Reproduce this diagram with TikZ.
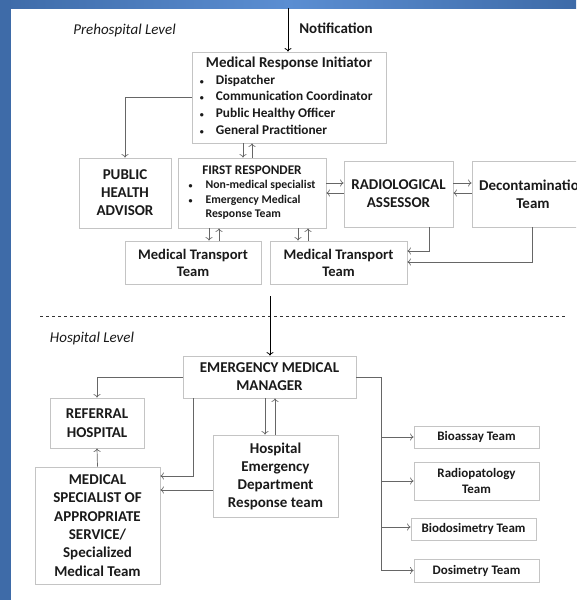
\documentclass[tikz,border=0pt]{standalone}
\usepackage{fontspec}
\setmainfont{Carlito}
\usetikzlibrary{arrows.meta}

\definecolor{bandblue}{HTML}{3E6BA8}
\definecolor{bandlight}{HTML}{5B8ED2}
\definecolor{boxgray}{HTML}{C4C4C4}
\definecolor{linegray}{HTML}{666666}
\definecolor{txt}{HTML}{1A1A1A}

\newcommand{\dotitem}{{\fontsize{8}{8}\selectfont\textbullet}}

\tikzset{
  >={To[length=3.5pt,width=7pt]},
  box/.style={draw=boxgray, line width=0.8pt, fill=white, align=center, text=txt,
    inner sep=1pt, font=\bfseries\fontsize{15}{18}\selectfont},
  smallbox/.style={box, font=\bfseries\fontsize{13}{16.5}\selectfont},
  conn/.style={draw=linegray, line width=0.7pt, ->},
  level/.style={font=\itshape\fontsize{15}{18}\selectfont, text=txt},
}

\begin{document}
\begin{tikzpicture}[x=1pt, y=-1pt]
    \useasboundingbox (0,0) rectangle (576,600);
    \clip (0,0) rectangle (576,600);
    % frame
    \shade[left color=bandblue, right color=bandblue, middle color=bandlight] (0,0) rectangle (576,8);
    \fill[bandblue] (0,0) rectangle (11,600);

    % prehospital level
    \node[level] (pre) at (124.5,30) {Prehospital Level};
    \coordinate (ntop) at (288,8);
    \node[font=\bfseries\fontsize{15}{18}\selectfont, text=txt] (notif) at (336,28) {Notification};

    \node[box, minimum width=194, minimum height=91, font=\bfseries\fontsize{13.3}{16.7}\selectfont] (mri) at (289,97.5)
      {\begin{tabular}{@{}l@{\hspace{12pt}}l@{}}
        \multicolumn{2}{c}{\fontsize{15}{17}\selectfont Medical Response Initiator}\\
        \dotitem & Dispatcher\\
        \dotitem & Communication Coordinator\\
        \dotitem & Public Healthy Officer\\
        \dotitem & General Practitioner
       \end{tabular}};
    \node[box, minimum width=92, minimum height=70] (pha) at (125,193) {PUBLIC\\HEALTH\\ADVISOR};
    \node[box, minimum width=148, minimum height=70, font=\bfseries\fontsize{11.75}{14.6}\selectfont] (fr) at (252,193)
      {\begin{tabular}{@{}l@{\hspace{13pt}}l@{}}
        \multicolumn{2}{c}{\fontsize{13.2}{15}\selectfont FIRST RESPONDER}\\
        \dotitem & Non-medical specialist\\
        \dotitem & Emergency Medical\\
                 & Response Team
       \end{tabular}};
    \node[box, minimum width=109, minimum height=66] (ra) at (398.5,194) {RADIOLOGICAL\\ASSESSOR};
    \node[box, minimum width=122, minimum height=66] (dt) at (533,194) {Decontamination\\Team};
    \node[box, minimum width=136, minimum height=43, font=\bfseries\fontsize{14.6}{17}\selectfont] (mt1) at (193,262.5) {Medical Transport\\Team};
    \node[box, minimum width=137, minimum height=43, font=\bfseries\fontsize{14.6}{17}\selectfont] (mt2) at (338.5,262.5) {Medical Transport\\Team};

    \draw[->, line width=0.8pt, black] (ntop) -- (ntop |- mri.north);
    \draw[conn] (mri.west) -| (pha.north);
    \draw[conn] (mri.south -| 243,0) -- (fr.north -| 243,0);
    \draw[conn] (fr.north -| 252,0) -- (mri.south -| 252,0);
    \draw[conn] (fr.east |- 0,183) -- (ra.west |- 0,183);
    \draw[conn] (ra.west |- 0,193) -- (fr.east |- 0,193);
    \draw[conn] (ra.east |- 0,183) -- (dt.west |- 0,183);
    \draw[conn] (dt.west |- 0,193) -- (ra.east |- 0,193);
    \draw[conn] (fr.south -| 209,0) -- (mt1.north -| 209,0);
    \draw[conn] (mt1.north -| 219,0) -- (fr.south -| 219,0);
    \draw[conn] (fr.south -| 298,0) -- (mt2.north -| 298,0);
    \draw[conn] (mt2.north -| 308,0) -- (fr.south -| 308,0);
    \draw[conn] (ra.south -| 429,0) |- (mt2.east |- 0,251);
    \draw[conn] (dt.south -| 532,0) |- (mt2.east |- 0,262);

    % hospital level
    \draw[dashed, line width=0.7pt, black!80] (40,316) -- (567,316);
    \node[level] (hosp) at (92,338) {Hospital Level};
    \coordinate (mid) at (270,296);

    \node[box, minimum width=173, minimum height=42] (emm) at (269.5,377) {EMERGENCY MEDICAL\\MANAGER};
    \node[box, minimum width=94, minimum height=50, font=\bfseries\fontsize{15}{19.3}\selectfont] (rh) at (97,423) {REFERRAL\\HOSPITAL};
    \node[box, minimum width=125, minimum height=117, font=\bfseries\fontsize{15}{18.3}\selectfont] (ms) at (97.5,525.5)
      {MEDICAL\\SPECIALIST OF\\APPROPRIATE\\SERVICE/\\Specialized\\Medical Team};
    \node[box, minimum width=125, minimum height=82] (hed) at (275.5,476) {Hospital\\Emergency\\Department\\Response team};
    \node[smallbox, minimum width=125, minimum height=22] (bio) at (476.5,437) {Bioassay Team};
    \node[smallbox, minimum width=125, minimum height=38] (rad) at (476.5,481) {Radiopatology\\Team};
    \node[smallbox, minimum width=125, minimum height=22] (bds) at (473.5,529) {Biodosimetry Team};
    \node[smallbox, minimum width=125, minimum height=23] (dos) at (476.5,570.5) {Dosimetry Team};

    \draw[->, line width=0.8pt, black] (mid) -- (mid |- emm.north);
    \draw[conn] (emm.west) -| (rh.north);
    \draw[conn] (ms.north) -- (rh.south);
    \draw[conn] (emm.south -| 193,0) |- (ms.east |- 0,476);
    \draw[conn] (hed.west |- 0,490) -- (ms.east |- 0,490);
    \draw[conn] (emm.south -| 265,0) -- (hed.north -| 265,0);
    \draw[conn] (hed.north -| 275,0) -- (emm.south -| 275,0);
    \draw[conn] (emm.east) -- (381,377) coordinate (trunk) |- (dos.west);
    \draw[conn] (trunk |- bio.west) -- (bio.west);
    \draw[conn] (trunk |- rad.west) -- (rad.west);
    \draw[conn] (trunk |- 0,527) -- (bds.west |- 0,527);
\end{tikzpicture}
\end{document}
